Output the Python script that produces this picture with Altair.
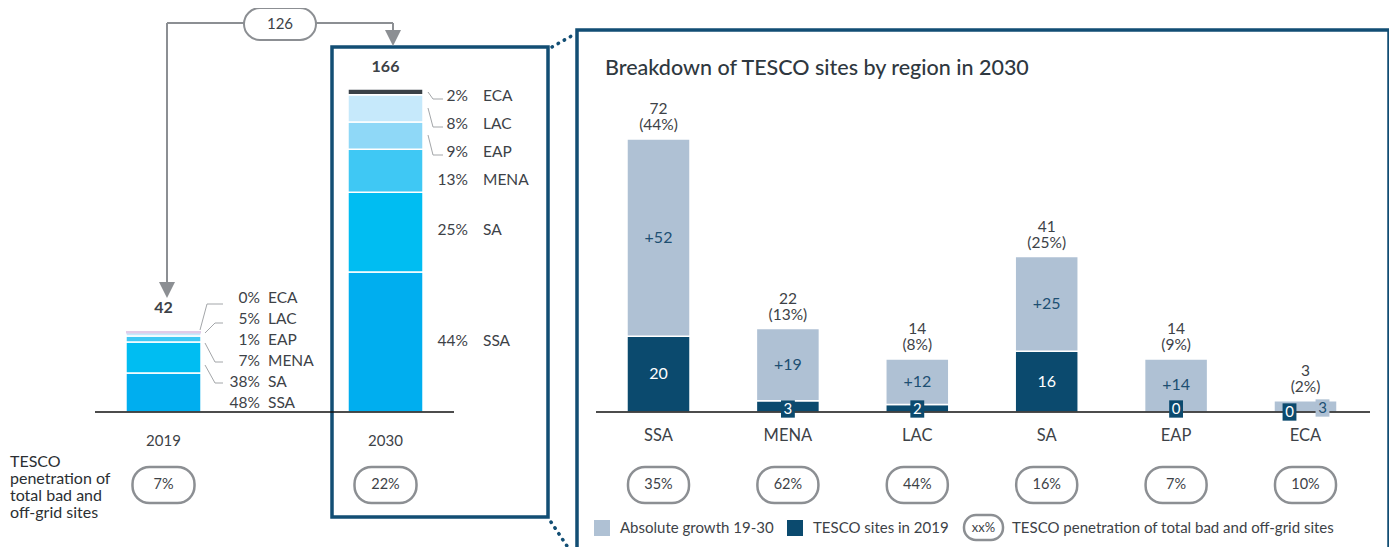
import altair as alt
import pandas as pd

# ---------------- data ----------------
regions = ["SSA", "MENA", "LAC", "SA", "EAP", "ECA"]
sites_2019 = [20, 3, 2, 16, 0, 0]
growth_19_30 = [52, 19, 12, 25, 14, 3]
sites_2030 = [72, 22, 14, 41, 14, 3]
share_2030 = [44, 13, 8, 25, 9, 2]
penetration_2030 = [35, 62, 44, 16, 7, 10]

years = ["2019", "2030"]
year_totals = [42, 166]
year_penetration = [7, 22]
added_sites = 126

stack_order = ["SSA", "SA", "MENA", "EAP", "LAC", "ECA"]  # bottom -> top
stack_2019 = [20, 16, 3, 0, 2, 0]
stack_2030 = [72, 41, 22, 14, 14, 3]
share_2019_stack = [48, 38, 7, 1, 5, 0]
share_2030_stack = [44, 25, 13, 9, 8, 2]

# ---------------- style / layout ----------------
FONT = "Lato"
TXT = "#3d4247"
DARK = "#0b4a6e"
LIGHT = "#afc1d4"
BOX = "#124e74"
GRAY = "#8c8f93"
LEAD = "#a3a6a9"
C19 = ["#00aeef", "#00bdf2", "#3fc8f4", "#8fd8f7", "#c6e9fb", "#e2cce8"]
C30 = ["#00aeef", "#00bdf2", "#3fc8f4", "#8fd8f7", "#c6e9fb", "#3a4148"]
W, H = 1381, 539


def S(v):
    return v - 8  # page coords -> chart coords


def px(df, cols):
    df = df.copy()
    for c in cols:
        df[c] = df[c].apply(S)
    return df


x_year = alt.Scale(domain=years, range=[S(52.5), S(496.5)], paddingInner=0.662, paddingOuter=0.331)
y_left = alt.Scale(domain=[0, 166], range=[S(412), S(89)], nice=False, zero=False)
x_reg = alt.Scale(domain=regions, range=[S(593.8), S(1370.2)], paddingInner=0.513, paddingOuter=0.2565)
y_right = alt.Scale(domain=[0, 72], range=[S(412), S(139)], nice=False, zero=False)

PX = dict(scale=None, axis=None)

# ---------------- tables ----------------
rows = []
for yr, vals, shares, cols in [("2019", stack_2019, share_2019_stack, C19),
                               ("2030", stack_2030, share_2030_stack, C30)]:
    cum = 0
    for reg, v, s, c in zip(stack_order, vals, shares, cols):
        rows.append(dict(year=yr, region=reg, y0=cum, y1=cum + v, share=s, fill=c))
        cum += v
stack_df = pd.DataFrame(rows)
seg_df = stack_df[stack_df.y1 > stack_df.y0]
top_marker = stack_df[(stack_df.year == "2019") & (stack_df.region == "ECA")]

year_df = pd.DataFrame(dict(year=years, total=year_totals,
                            pen=[f"{p}%" for p in year_penetration]))

reg_df = pd.DataFrame(dict(region=regions, s19=sites_2019, growth=growth_19_30,
                           total=sites_2030, share=share_2030, pen=penetration_2030))
reg_df["mid_g"] = reg_df.s19 + reg_df.growth / 2
reg_df["mid_d"] = reg_df.s19 / 2
reg_df["base"] = 0
reg_df["g_txt"] = "+" + reg_df.growth.astype(str)
reg_df["tot_txt"] = reg_df.total.astype(str)
reg_df["sh_txt"] = "(" + reg_df.share.astype(str) + "%)"
reg_df["pen_txt"] = reg_df.pen.astype(str) + "%"
reg_df["d_txt"] = reg_df.s19.astype(str)

# label positions (page y) for the stacked-bar annotations, top -> bottom
lab_order = ["ECA", "LAC", "EAP", "MENA", "SA", "SSA"]
lab_y_2019 = [298, 319, 340, 361, 382, 403]
lab_y_2030 = [96, 124, 152, 180, 230, 341]
sh19 = dict(zip(stack_order, share_2019_stack))
sh30 = dict(zip(stack_order, share_2030_stack))
lab19 = pd.DataFrame(dict(year="2019", region=lab_order, y=[S(v) for v in lab_y_2019],
                          pct=[f"{sh19[r]}%" for r in lab_order]))
lab30 = pd.DataFrame(dict(year="2030", region=lab_order, y=[S(v) for v in lab_y_2030],
                          pct=[f"{sh30[r]}%" for r in lab_order]))

# ---------------- decoration tables (page coordinates) ----------------
boxes = px(pd.DataFrame(dict(x=[332, 577], x2=[548, 1389], y=[47, 30], y2=[517, 600])),
           ["x", "x2", "y", "y2"])
baselines = px(pd.DataFrame(dict(x=[95, 596], x2=[454, 1370], y=[412, 412], y2=[412, 412])),
               ["x", "x2", "y", "y2"])
arrows = px(pd.DataFrame(dict(x=[167, 167, 393], x2=[167, 393, 393],
                              y=[283, 23, 23], y2=[23, 23, 31])), ["x", "x2", "y", "y2"])
heads = px(pd.DataFrame(dict(x=[167, 393], y=[290, 38])), ["x", "y"])
leaders = px(pd.DataFrame(dict(
    x=[223, 207, 223, 215, 205, 215, 205, 215, 443, 433, 443, 433, 443, 433],
    y=[304, 304, 323, 323, 343, 362, 365, 383, 99, 99, 127, 127, 155, 155],
    x2=[207, 200, 215, 205, 215, 223, 215, 223, 433, 428, 433, 428, 433, 428],
    y2=[304, 330, 323, 333, 362, 362, 383, 383, 99, 92, 127, 108, 155, 135])),
    ["x", "y", "x2", "y2"])
dots = px(pd.DataFrame(dict(x=[552, 551], y=[47, 522], x2=[575, 573], y2=[34, 555])),
          ["x", "y", "x2", "y2"])
pill126 = px(pd.DataFrame(dict(x=[244], x2=[316], y=[8], y2=[40], cx=[280], cy=[24],
                               t=[str(added_sites)])), ["x", "x2", "y", "y2", "cx", "cy"])
side_text = px(pd.DataFrame(dict(x=[10] * 4, y=[462, 479, 496, 513],
                                 t=["TESCO", "penetration of", "total bad and", "off-grid sites"])),
               ["x", "y"])
title = px(pd.DataFrame(dict(x=[605], y=[69], t=["Breakdown of TESCO sites by region in 2030"])),
           ["x", "y"])
leg_sq = px(pd.DataFrame(dict(x=[602, 795], y=[528, 528], c=[LIGHT, DARK])), ["x", "y"])
leg_txt = px(pd.DataFrame(dict(x=[620, 813, 1012], y=[528, 528, 528],
                               t=["Absolute growth 19-30", "TESCO sites in 2019",
                                  "TESCO penetration of total bad and off-grid sites"])),
             ["x", "y"])
leg_pill = px(pd.DataFrame(dict(x=[964], x2=[1003], y=[515], y2=[540], cx=[983.5], cy=[527.5],
                                t=["xx%"])), ["x", "x2", "y", "y2", "cx", "cy"])

layers = []

# frames
layers.append(alt.Chart(boxes).mark_rect(fill=None, stroke=BOX, strokeWidth=3.5).encode(
    x=alt.X("x:Q", **PX), x2="x2:Q", y=alt.Y("y:Q", **PX), y2="y2:Q"))
layers.append(alt.Chart(dots).mark_rule(color=BOX, strokeWidth=3.5, strokeCap="round",
                                        strokeDash=[0.5, 6.5]).encode(
    x=alt.X("x:Q", **PX), x2="x2:Q", y=alt.Y("y:Q", **PX), y2="y2:Q"))

# arrows
layers.append(alt.Chart(arrows).mark_rule(color=GRAY, strokeWidth=2).encode(
    x=alt.X("x:Q", **PX), x2="x2:Q", y=alt.Y("y:Q", **PX), y2="y2:Q"))
layers.append(alt.Chart(heads).mark_point(shape="M-1,-1L1,-1L0,1Z", filled=True, size=256,
                                          color=GRAY, opacity=1).encode(
    x=alt.X("x:Q", **PX), y=alt.Y("y:Q", **PX)))
layers.append(alt.Chart(pill126).mark_rect(fill="white", stroke=GRAY, strokeWidth=2,
                                           cornerRadius=16).encode(
    x=alt.X("x:Q", **PX), x2="x2:Q", y=alt.Y("y:Q", **PX), y2="y2:Q"))
layers.append(alt.Chart(pill126).mark_text(font=FONT, fontSize=15, color=TXT).encode(
    x=alt.X("cx:Q", **PX), y=alt.Y("cy:Q", **PX), text="t:N"))

# left stacked bars
layers.append(alt.Chart(seg_df).mark_bar(stroke="white", strokeWidth=1.5).encode(
    x=alt.X("year:N", scale=x_year, axis=None),
    y=alt.Y("y0:Q", scale=y_left, axis=None), y2="y1:Q",
    color=alt.Color("fill:N", scale=None, legend=None)))
layers.append(alt.Chart(top_marker).mark_bar(strokeWidth=2.5, stroke=C19[-1], fill=C19[-1]).encode(
    x=alt.X("year:N", scale=x_year, axis=None),
    y=alt.Y("y0:Q", scale=y_left, axis=None), y2="y1:Q"))
layers.append(alt.Chart(year_df).mark_text(font=FONT, fontSize=16, fontWeight="bold", color=TXT,
                                           dy=-22).encode(
    x=alt.X("year:N", scale=x_year, axis=None),
    y=alt.Y("total:Q", scale=y_left, axis=None), text="total:Q"))
layers.append(alt.Chart(year_df).mark_text(font=FONT, fontSize=15, color=TXT).encode(
    x=alt.X("year:N", scale=x_year, axis=None), y=alt.value(S(441)), text="year:N"))

# stacked bar labels + leaders
for df, dxp, dxn in [(lab19, 96.5, 104.5), (lab30, 82.5, 97.5)]:
    layers.append(alt.Chart(df).mark_text(font=FONT, fontSize=15.5, color=TXT, align="right",
                                          dx=dxp).encode(
        x=alt.X("year:N", scale=x_year, axis=None), y=alt.Y("y:Q", **PX), text="pct:N"))
    layers.append(alt.Chart(df).mark_text(font=FONT, fontSize=15.5, color=TXT, align="left",
                                          dx=dxn).encode(
        x=alt.X("year:N", scale=x_year, axis=None), y=alt.Y("y:Q", **PX), text="region:N"))
layers.append(alt.Chart(leaders).mark_rule(color=LEAD, strokeWidth=1).encode(
    x=alt.X("x:Q", **PX), x2="x2:Q", y=alt.Y("y:Q", **PX), y2="y2:Q"))

# left pills
layers.append(alt.Chart(year_df).mark_bar(width=62, cornerRadius=17, fill="white", stroke=GRAY,
                                          strokeWidth=2.5).encode(
    x=alt.X("year:N", scale=x_year, axis=None), y=alt.value(S(467)), y2=alt.value(S(503))))
layers.append(alt.Chart(year_df).mark_text(font=FONT, fontSize=14.5, color=TXT).encode(
    x=alt.X("year:N", scale=x_year, axis=None), y=alt.value(S(485)), text="pen:N"))
layers.append(alt.Chart(side_text).mark_text(font=FONT, fontSize=16, color="#2b2f33",
                                             align="left").encode(
    x=alt.X("x:Q", **PX), y=alt.Y("y:Q", **PX), text="t:N"))

# right panel
layers.append(alt.Chart(title).mark_text(font=FONT, fontSize=21.5, fontWeight=500, color="#2f3840",
                                         align="left").encode(
    x=alt.X("x:Q", **PX), y=alt.Y("y:Q", **PX), text="t:N"))
layers.append(alt.Chart(reg_df).mark_bar(fill=DARK, stroke="white", strokeWidth=1.5).encode(
    x=alt.X("region:N", scale=x_reg, axis=None),
    y=alt.Y("base:Q", scale=y_right, axis=None), y2="s19:Q"))
layers.append(alt.Chart(reg_df).mark_bar(fill=LIGHT, stroke="white", strokeWidth=1.5).encode(
    x=alt.X("region:N", scale=x_reg, axis=None),
    y=alt.Y("s19:Q", scale=y_right, axis=None), y2="total:Q"))
layers.append(alt.Chart(baselines).mark_rule(color="#111111", strokeWidth=1.5).encode(
    x=alt.X("x:Q", **PX), x2="x2:Q", y=alt.Y("y:Q", **PX), y2="y2:Q"))

layers.append(alt.Chart(reg_df).mark_text(font=FONT, fontSize=15.5, color=TXT, dy=-30).encode(
    x=alt.X("region:N", scale=x_reg, axis=None),
    y=alt.Y("total:Q", scale=y_right, axis=None), text="tot_txt:N"))
layers.append(alt.Chart(reg_df).mark_text(font=FONT, fontSize=15.5, color=TXT, dy=-14).encode(
    x=alt.X("region:N", scale=x_reg, axis=None),
    y=alt.Y("total:Q", scale=y_right, axis=None), text="sh_txt:N"))

big_g = reg_df[reg_df.growth >= 8]
layers.append(alt.Chart(big_g).mark_text(font=FONT, fontSize=16, color="#1d4f72").encode(
    x=alt.X("region:N", scale=x_reg, axis=None),
    y=alt.Y("mid_g:Q", scale=y_right, axis=None), text="g_txt:N"))
big_d = reg_df[reg_df.s19 >= 8]
layers.append(alt.Chart(big_d).mark_text(font=FONT, fontSize=16, color="white").encode(
    x=alt.X("region:N", scale=x_reg, axis=None),
    y=alt.Y("mid_d:Q", scale=y_right, axis=None), text="d_txt:N"))

# small-value boxes at the baseline
RECT = "M-0.8,-1L0.8,-1L0.8,1L-0.8,1Z"
small_d = reg_df[(reg_df.s19 < 8) & (reg_df.growth >= 8)]
ecad = reg_df[(reg_df.s19 < 8) & (reg_df.growth < 8)]
for df, xo, yo, fill, tcol, txt in [
    (small_d, 0, -3, DARK, "white", "d_txt:N"),
    (ecad, -16, 0, DARK, "white", "d_txt:N"),
    (ecad, 17, -4, LIGHT, "#1d4f72", "growth:Q"),
]:
    layers.append(alt.Chart(df).mark_point(shape=RECT, filled=True, size=300, color=fill,
                                           opacity=1, xOffset=xo, yOffset=yo).encode(
        x=alt.X("region:N", scale=x_reg, axis=None),
        y=alt.Y("base:Q", scale=y_right, axis=None)))
    layers.append(alt.Chart(df).mark_text(font=FONT, fontSize=15, color=tcol,
                                          dx=xo, dy=yo).encode(
        x=alt.X("region:N", scale=x_reg, axis=None),
        y=alt.Y("base:Q", scale=y_right, axis=None), text=txt))

layers.append(alt.Chart(reg_df).mark_text(font=FONT, fontSize=16.5, color=TXT).encode(
    x=alt.X("region:N", scale=x_reg, axis=None), y=alt.value(S(436)), text="region:N"))
layers.append(alt.Chart(reg_df).mark_bar(width=61, cornerRadius=17, fill="white", stroke=GRAY,
                                         strokeWidth=2.5).encode(
    x=alt.X("region:N", scale=x_reg, axis=None), y=alt.value(S(467)), y2=alt.value(S(503))))
layers.append(alt.Chart(reg_df).mark_text(font=FONT, fontSize=14.5, color=TXT).encode(
    x=alt.X("region:N", scale=x_reg, axis=None), y=alt.value(S(485)), text="pen_txt:N"))

# legend
layers.append(alt.Chart(leg_sq).mark_square(size=256, opacity=1).encode(
    x=alt.X("x:Q", **PX), y=alt.Y("y:Q", **PX), color=alt.Color("c:N", scale=None, legend=None)))
layers.append(alt.Chart(leg_txt).mark_text(font=FONT, fontSize=15, color=TXT, align="left").encode(
    x=alt.X("x:Q", **PX), y=alt.Y("y:Q", **PX), text="t:N"))
layers.append(alt.Chart(leg_pill).mark_rect(fill="white", stroke=GRAY, strokeWidth=2.5,
                                            cornerRadius=12).encode(
    x=alt.X("x:Q", **PX), x2="x2:Q", y=alt.Y("y:Q", **PX), y2="y2:Q"))
layers.append(alt.Chart(leg_pill).mark_text(font=FONT, fontSize=13, color=TXT).encode(
    x=alt.X("cx:Q", **PX), y=alt.Y("cy:Q", **PX), text="t:N"))

chart = alt.layer(*layers).resolve_scale(
    x="independent", y="independent", color="independent"
).properties(width=W, height=H, padding=0, autosize="none").configure_view(stroke=None)

chart.save("out.html", embed_options={"renderer": "svg", "actions": False})
